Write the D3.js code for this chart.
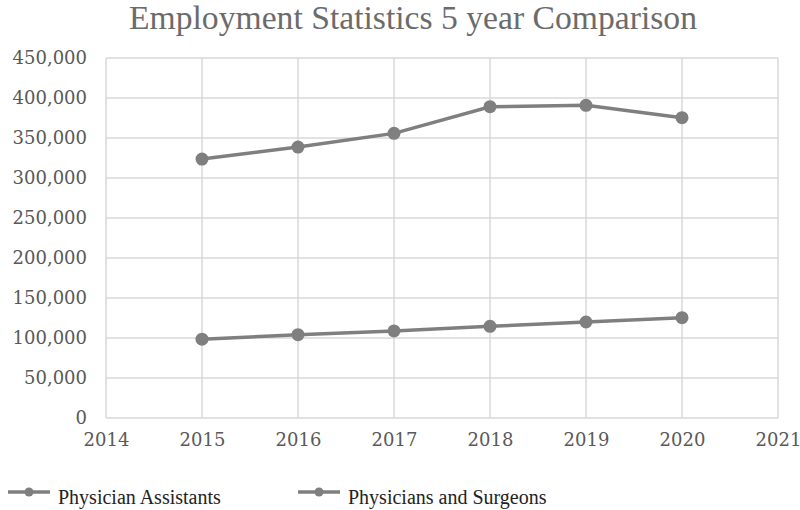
<!DOCTYPE html>
<html><head><meta charset="utf-8">
<script src="https://cdn.jsdelivr.net/npm/d3@7"></script>
<style>body{margin:0;background:#fff}svg{display:block}</style>
</head><body>
<svg id="c" width="800" height="510"></svg>
<script>
const years = [2015, 2016, 2017, 2018, 2019, 2020];
const physicianAssistants = [98500, 104200, 108800, 114600, 120000, 125400];
const physiciansSurgeons = [323700, 338700, 355800, 389100, 390800, 375400];
const seriesNames = ["Physician Assistants", "Physicians and Surgeons"];
const yTicks = [0, 50000, 100000, 150000, 200000, 250000, 300000, 350000, 400000, 450000];
const xTicks = [2014, 2015, 2016, 2017, 2018, 2019, 2020, 2021];
const title = "Employment Statistics 5 year Comparison";

const svg = d3.select("#c");
const x = d3.scaleLinear().domain([2014, 2021]).range([106, 778]);
const y = d3.scaleLinear().domain([0, 450000]).range([418, 58]);
const grey = "#7f7f7f", txt = "#595959", grid = "#d9d9d9";
const tickFont = "'DejaVu Serif'";

svg.append("text").attr("x", 413).attr("y", 29).attr("text-anchor", "middle")
  .attr("font-family", "'Liberation Serif'").attr("font-size", 34).attr("fill", "#6b6b6b")
  .attr("textLength", 568).attr("lengthAdjust", "spacingAndGlyphs")
  .text(title);

// gridlines
svg.append("g").selectAll("line").data(yTicks).join("line")
  .attr("x1", x(2014)).attr("x2", x(2021)).attr("y1", d => y(d)).attr("y2", d => y(d))
  .attr("stroke", grid).attr("stroke-width", 1.5);
svg.append("g").selectAll("line").data(xTicks).join("line")
  .attr("x1", d => x(d)).attr("x2", d => x(d)).attr("y1", y(0)).attr("y2", y(450000))
  .attr("stroke", grid).attr("stroke-width", 1.5);

// axes
const yAxis = d3.axisLeft(y).tickValues(yTicks).tickSize(0).tickPadding(19)
  .tickFormat(d3.format(","));
const gy = svg.append("g").attr("transform", `translate(${x(2014)},0)`).call(yAxis);
gy.select(".domain").remove();
gy.selectAll("text").attr("font-family", tickFont).attr("font-size", 18).attr("fill", txt);

const xAxis = d3.axisBottom(x).tickValues(xTicks).tickSize(0).tickPadding(15)
  .tickFormat(d3.format("d"));
const gx = svg.append("g").attr("transform", `translate(0,${y(0)})`).call(xAxis);
gx.select(".domain").remove();
gx.selectAll("text").attr("font-family", tickFont).attr("font-size", 18).attr("fill", txt);

// series
const line = d3.line().x((d, i) => x(years[i])).y(d => y(d));
[physicianAssistants, physiciansSurgeons].forEach(vals => {
  svg.append("path").datum(vals).attr("d", line).attr("fill", "none")
    .attr("stroke", grey).attr("stroke-width", 3.5);
  svg.append("g").selectAll("circle").data(vals).join("circle")
    .attr("cx", (d, i) => x(years[i])).attr("cy", d => y(d)).attr("r", 6.5).attr("fill", grey);
});

// legend
const legX = [8, 298];
seriesNames.forEach((name, i) => {
  const g = svg.append("g").attr("transform", `translate(${legX[i]},492)`);
  g.append("line").attr("x1", 0).attr("x2", 42).attr("stroke", grey).attr("stroke-width", 3.5);
  g.append("circle").attr("cx", 21).attr("r", 4.5).attr("fill", grey);
  g.append("text").attr("x", 50).attr("y", 12).attr("font-family", "'Liberation Serif'")
    .attr("font-size", 20).attr("fill", "#222").text(name);
});
</script>
</body></html>
